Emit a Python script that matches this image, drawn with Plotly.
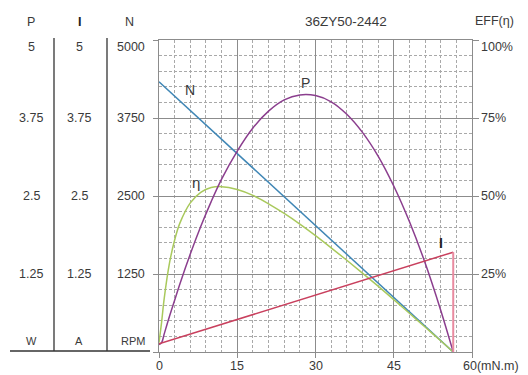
import plotly.graph_objects as go

# ---------------- data ----------------
title_text = "36ZY50-2442"
torque = [0, 0.5, 1, 2, 3, 4, 6, 8, 10, 12, 15, 18, 21, 24, 27, 30, 33, 36, 39, 42, 45, 48, 51, 54, 56.4]
power_w = [0.12, 0.15, 0.29, 0.57, 0.83, 1.09, 1.57, 2.01, 2.41, 2.77, 3.22, 3.59, 3.86, 4.04, 4.12,
           4.11, 4.01, 3.81, 3.52, 3.14, 2.66, 2.09, 1.43, 0.67, 0]
eff_pct = [3, 9.6, 17.2, 28.4, 35.9, 41.3, 47.8, 51.2, 52.7, 53.0, 52.1, 50.2, 47.5, 44.4, 41.0,
           37.3, 33.4, 29.4, 25.3, 21.1, 16.8, 12.4, 8.0, 3.6, 0]
speed_torque = [0, 56.4]
speed_rpm = [4330, 0]
current_torque = [0, 56.4]
current_a = [0.13, 1.6]
stall_torque = 56.4
stall_current = 1.6

p_ticks = ["5", "3.75", "2.5", "1.25"]
i_ticks = ["5", "3.75", "2.5", "1.25"]
n_tickvals = [5000, 3750, 2500, 1250]
n_ticks = ["5000", "3750", "2500", "1250"]
eff_tickvals = [100, 75, 50, 25]
eff_ticks = ["100%", "75%", "50%", "25%"]
x_tickvals = [0, 15, 30, 45]
x_ticks = ["0", "15", "30", "45"]
x_last_val = 60
x_last_text = "60(mN.m)"
units = ["W", "A", "RPM"]
headers = ["P", "I", "N"]

# ---------------- layout geometry ----------------
# the page body has an 8px margin, so the figure is offset by 8px
OFF = 8
W, H = 528 - OFF, 375 - OFF
L, R, T, B = 159 - OFF, 528 - 472, 40 - OFF, 375 - 352
PW, PH = W - L - R, H - T - B

def px(x):
    # x given in window pixels
    return (x - OFF - L) / PW

def py(y):
    return (H - B - (y - OFF)) / PH

FONT = "Liberation Sans, Arial, sans-serif"
TXT = "#3a3a3a"
MAJ = "#8c8c8c"
MIN = "#a9a9a9"

fig = go.Figure()

fig.add_trace(go.Scatter(x=speed_torque, y=speed_rpm, mode="lines",
                         line=dict(color="#3f86b5", width=1.5), yaxis="y", hoverinfo="skip"))
fig.add_trace(go.Scatter(x=torque, y=power_w, mode="lines", line_shape="spline",
                         line=dict(color="#8b3e8e", width=1.5), yaxis="y3", hoverinfo="skip"))
fig.add_trace(go.Scatter(x=torque, y=eff_pct, mode="lines", line_shape="spline",
                         line=dict(color="#a9c95c", width=1.5), yaxis="y2", hoverinfo="skip"))
fig.add_trace(go.Scatter(x=current_torque, y=current_a, mode="lines",
                         line=dict(color="#c9405e", width=1.5), yaxis="y3", hoverinfo="skip"))
fig.add_trace(go.Scatter(x=[stall_torque, stall_torque], y=[stall_current, 0], mode="lines",
                         line=dict(color="#e98aa0", width=2), yaxis="y3", hoverinfo="skip"))

ann = []
def add(text, x, y, size=12.5, xanchor="center", color=TXT, xref="paper", yref="paper", yshift=0):
    ann.append(dict(text=text, x=x, y=y, xref=xref, yref=yref, showarrow=False,
                    xanchor=xanchor, yanchor="middle", yshift=yshift,
                    font=dict(family=FONT, size=size, color=color)))

# headers
add(headers[0], px(31), py(22), size=12.5)
add("<b>" + headers[1] + "</b>", px(79), py(22), size=12.5, color="#222")
add(headers[2], px(129), py(22), size=12.5)
# left tick columns
for k in range(len(n_tickvals)):
    sh = -7 if k == 0 else 0
    add(p_ticks[k], px(31), n_tickvals[k], yref="y", yshift=sh)
    add(i_ticks[k], px(79), n_tickvals[k], yref="y", yshift=sh)
    add(n_ticks[k], px(147), n_tickvals[k], yref="y", yshift=sh, xanchor="right")
# units
add(units[0], px(31), py(341), size=11)
add(units[1], px(79), py(341), size=11)
add(units[2], px(133), py(341), size=11)
# right ticks
for k in range(len(eff_tickvals)):
    sh = -7 if k == 0 else 0
    ann.append(dict(text=eff_ticks[k], x=px(479), y=eff_tickvals[k], xref="paper", yref="y2",
                    showarrow=False, xanchor="left", yanchor="middle", yshift=sh,
                    font=dict(family=FONT, size=12.5, color=TXT)))
add("EFF(η)", px(494), py(21), size=12.5)
add(title_text, px(346), py(21), size=13.5)
# x ticks
for k in range(len(x_tickvals)):
    ann.append(dict(text=x_ticks[k], x=x_tickvals[k], y=py(366), xref="x", yref="paper",
                    showarrow=False, xanchor="center", yanchor="middle",
                    font=dict(family=FONT, size=12.5, color=TXT)))
ann.append(dict(text=x_last_text, x=x_last_val, y=py(366), xref="x", yref="paper",
                showarrow=False, xanchor="left", yanchor="middle", xshift=-11,
                font=dict(family=FONT, size=12.5, color=TXT)))
# curve labels
add("N", px(190), py(90), size=14)
add("P", px(305), py(83), size=14)
add("η", px(196), py(182), size=15)
add("<b>I</b>", px(441), py(243), size=14, color="#222")

shapes = []
for xv in (54, 107):
    shapes.append(dict(type="line", xref="paper", yref="paper", x0=px(xv), x1=px(xv),
                       y0=py(38), y1=py(351), line=dict(color="#333", width=1.3)))
shapes.append(dict(type="line", xref="paper", yref="paper", x0=px(10), x1=px(150),
                   y0=py(351), y1=py(351), line=dict(color="#333", width=1.3)))

fig.update_layout(
    width=W, height=H, margin=dict(l=L, r=R, t=T, b=B),
    paper_bgcolor="white", plot_bgcolor="white", showlegend=False,
    annotations=ann, shapes=shapes,
    xaxis=dict(range=[0, 60], tickvals=[0, 15, 30, 45, 60], showticklabels=False,
               showgrid=True, gridcolor=MAJ, gridwidth=1,
               minor=dict(dtick=3, showgrid=True, gridcolor=MIN, griddash="3px,2px", gridwidth=1),
               ticks="outside", ticklen=5, tickcolor=MAJ,
               showline=True, linecolor=MAJ, linewidth=1, mirror=True, zeroline=False,
               fixedrange=True),
    yaxis=dict(range=[0, 5000], tickvals=[0, 1250, 2500, 3750, 5000], showticklabels=False,
               showgrid=True, gridcolor=MAJ, gridwidth=1,
               minor=dict(dtick=250, showgrid=True, gridcolor=MIN, griddash="3px,2px", gridwidth=1),
               ticks="outside", ticklen=5, tickcolor=MAJ,
               showline=True, linecolor=MAJ, linewidth=1, mirror=True, zeroline=False,
               fixedrange=True),
    yaxis2=dict(range=[0, 100], overlaying="y", side="right", tickvals=eff_tickvals,
                showticklabels=False, showgrid=False, ticks="outside", ticklen=6,
                tickcolor=MAJ, zeroline=False, showline=False, fixedrange=True),
    yaxis3=dict(range=[0, 5], overlaying="y", visible=False, fixedrange=True),
)

fig.write_html("out.html")
